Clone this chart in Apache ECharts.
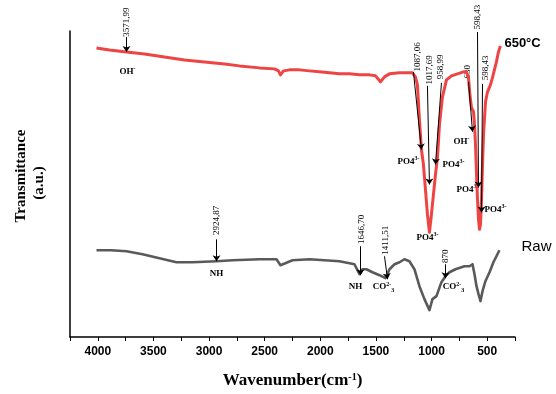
<!DOCTYPE html>
<html>
<head>
<meta charset="utf-8">
<script src="https://cdn.jsdelivr.net/npm/echarts@6/dist/echarts.min.js"></script>
<style>
  html, body { margin: 0; padding: 0; background: #ffffff; }
  #chart { width: 556px; height: 394px; }
</style>
</head>
<body>
<div id="chart"></div>
<script>
// FTIR spectra (transmittance in arbitrary units)
const wavenumber650 = [4012, 3895, 3742, 3580, 3401, 3221, 3041, 2861, 2727, 2547, 2412, 2376, 2358, 2331, 2277, 2187, 2097, 2007, 1918, 1828, 1738, 1648, 1558, 1504, 1459, 1423, 1378, 1288, 1172, 1145, 1127, 1109, 1091, 1073, 1055, 1037, 1019, 1001, 983, 965, 947, 929, 902, 866, 821, 767, 713, 686, 668, 659, 650, 641, 623, 614, 605, 596, 587, 578, 569, 560, 551, 542, 533, 515, 497, 471, 453, 435, 417, 399, 381];
const trans650 = [290, 288, 286, 284, 281, 278, 276, 274, 272, 270, 269, 267, 263, 267, 268, 268, 267, 266, 265, 264, 264, 263, 263, 262, 256, 261, 264, 265, 265, 261, 253, 218, 188, 173, 148, 123, 105, 123, 143, 163, 180, 213, 241, 258, 262, 264, 266, 266, 260, 248, 238, 230, 226, 213, 193, 163, 138, 118, 108, 113, 138, 173, 203, 236, 246, 253, 260, 268, 276, 286, 292];

const wavenumberRaw = [4012, 3880, 3742, 3598, 3446, 3293, 3149, 2933, 2789, 2547, 2394, 2358, 2250, 2097, 1828, 1693, 1648, 1621, 1585, 1531, 1468, 1414, 1378, 1333, 1288, 1244, 1199, 1154, 1109, 1064, 1019, 992, 956, 911, 875, 839, 785, 704, 659, 632, 614, 596, 578, 560, 542, 516, 479, 444, 417, 390];
const transRaw = [87, 87, 86, 83, 79, 75, 75, 76, 77, 78, 78, 72, 77, 78, 76, 73, 63, 68, 68, 65, 62, 59, 68, 73, 75, 78, 76, 68, 51, 38, 27, 38, 41, 55, 61, 65, 68, 71, 71, 73, 63, 51, 43, 36, 46, 56, 65, 75, 81, 87];

// peak annotations: rotated wavenumber, arrow, group label
const peakText = ['3571,99', '1087,06', '1017,69', '958,99', '630', '598,43', '598,43', '2924,87', '1646,70', '1411,51', '870'];
const peakTextAt = [[3742, 316], [1127, 281], [1019, 268], [920, 271], [677, 266], [587, 321], [515, 270], [2933, 117], [1630, 108], [1414, 97], [875, 81]];
const arrowFrom = [[3742, 301], [1163, 266], [1037, 252], [911, 255], [668, 256], [587, 306], [542, 254], [2933, 98], [1639, 91], [1423, 81], [875, 73]];
const arrowTo = [[3742, 286], [1091, 188], [1019, 153], [965, 173], [632, 206], [578, 150], [551, 125], [2933, 76], [1639, 62], [1396, 58], [875, 59]];
const arrowSample = [0, 0, 0, 0, 0, 0, 0, 1, 1, 1, 1];

const groupText = ['{b|OH}{sup|-}', '{b|PO4}{sup|3-}', '{b|PO4}{sup|3-}', '{b|PO4}{sup|3-}', '{b|OH}{sup|-}', '{b|PO4}{sup|3-}', '{b|PO4}{sup|3-}', '{b|NH}', '{b|NH}', '{b|CO}{sup|2-}{sub|3}', '{b|CO}{sup|2-}{sub|3}'];
const groupTextAt = [[3733, 266], [1208, 176], [1037, 100], [902, 173], [731, 196], [578, 148], [524, 128], [2933, 64], [1684, 50], [1432, 50], [803, 50]];
const groupAlign = ['center', 'center', 'center', 'left', 'center', 'right', 'left', 'center', 'center', 'center', 'center'];

const sampleNames = ['650°C', 'Raw'];
const sampleNameAt = [[345, 295], [192, 90]];
const sampleColors = ['#ef4444', '#5a5a5a'];

const serif = '"Liberation Serif", "Times New Roman", serif';
const sans = '"Liberation Sans", Arial, sans-serif';

const richSmall = {
  b: { fontFamily: serif, fontWeight: 'bold', fontSize: 9, lineHeight: 12, color: '#000' },
  sup: { fontFamily: serif, fontWeight: 'bold', fontSize: 6, lineHeight: 6, verticalAlign: 'top', color: '#000' },
  sub: { fontFamily: serif, fontWeight: 'bold', fontSize: 6, lineHeight: 6, verticalAlign: 'bottom', color: '#000' }
};

const chart = echarts.init(document.getElementById('chart'), null, { renderer: 'canvas' });

function arrowsFor(sample) {
  const out = [];
  arrowFrom.forEach((from, i) => {
    if (arrowSample[i] === sample) {
      out.push([{ coord: from }, { coord: arrowTo[i] }]);
    }
  });
  return out;
}

function spectrum(name, xs, ys, color, width, sample) {
  return {
    name: name,
    type: 'line',
    data: xs.map((x, i) => [x, ys[i]]),
    showSymbol: false,
    silent: true,
    lineStyle: { color: color, width: width, join: 'round' },
    markLine: {
      silent: true,
      animation: false,
      symbol: ['none', 'arrow'],
      symbolSize: 6,
      label: { show: false },
      lineStyle: { color: '#000', width: 1, type: 'solid' },
      emphasis: { disabled: true },
      data: arrowsFor(sample)
    }
  };
}

chart.setOption({
  animation: false,
  grid: { left: 70, right: 41, top: 31, bottom: 56 },
  xAxis: {
    type: 'value',
    inverse: true,
    min: 250,
    max: 4250,
    interval: 250,
    axisLine: { lineStyle: { color: '#000', width: 1.5 } },
    axisTick: { show: true, length: 4, lineStyle: { color: '#000', width: 1 } },
    axisLabel: {
      margin: 9,
      color: '#000',
      fontFamily: sans,
      fontWeight: 'bold',
      fontSize: 12,
      formatter: (v) => (v % 500 === 0 && v >= 500 && v <= 4000 ? String(v) : '')
    },
    splitLine: { show: false },
    name: 'Wavenumber(cm{sup|-1})',
    nameLocation: 'middle',
    nameGap: 35,
    nameTextStyle: {
      fontFamily: serif, fontWeight: 'bold', fontSize: 17, color: '#000',
      rich: { sup: { fontFamily: serif, fontWeight: 'bold', fontSize: 10, verticalAlign: 'top', lineHeight: 10, color: '#000' } }
    }
  },
  yAxis: {
    type: 'value',
    min: 0,
    max: 307,
    axisLine: { show: true, lineStyle: { color: '#000', width: 1.5 } },
    axisTick: { show: false },
    axisLabel: { show: false },
    splitLine: { show: false }
  },
  series: [
    spectrum(sampleNames[0], wavenumber650, trans650, sampleColors[0], 3, 0),
    spectrum(sampleNames[1], wavenumberRaw, transRaw, sampleColors[1], 2.6, 1)
  ]
});

const px = (pt) => chart.convertToPixel({ gridIndex: 0 }, pt);
const graphics = [];

peakText.forEach((t, i) => {
  const p = px(peakTextAt[i]);
  graphics.push({
    type: 'text', x: p[0], y: p[1], rotation: Math.PI / 2, silent: true,
    style: { text: t, fontFamily: serif, fontSize: 9, fill: '#000', align: 'center', verticalAlign: 'middle' }
  });
});

groupText.forEach((t, i) => {
  const p = px(groupTextAt[i]);
  graphics.push({
    type: 'text', x: p[0], y: p[1], silent: true,
    style: { text: t, rich: richSmall, align: groupAlign[i], verticalAlign: 'middle' }
  });
});

sampleNames.forEach((t, i) => {
  const p = px(sampleNameAt[i]);
  graphics.push({
    type: 'text', x: p[0], y: p[1], silent: true,
    style: {
      text: t, fontFamily: sans, fontSize: i === 0 ? 13 : 15, fontWeight: i === 0 ? 'bold' : 'normal',
      fill: '#000', align: 'left', verticalAlign: 'middle'
    }
  });
});

// y axis title, two lines
graphics.push({
  type: 'text', x: 21, y: 176, rotation: Math.PI / 2, silent: true,
  style: { text: 'Transmittance', fontFamily: serif, fontWeight: 'bold', fontSize: 15, fill: '#000', align: 'center', verticalAlign: 'middle' }
});
graphics.push({
  type: 'text', x: 39, y: 183, rotation: Math.PI / 2, silent: true,
  style: { text: '(a.u.)', fontFamily: serif, fontWeight: 'bold', fontSize: 15, fill: '#000', align: 'center', verticalAlign: 'middle' }
});

chart.setOption({ graphic: graphics });
</script>
</body>
</html>
